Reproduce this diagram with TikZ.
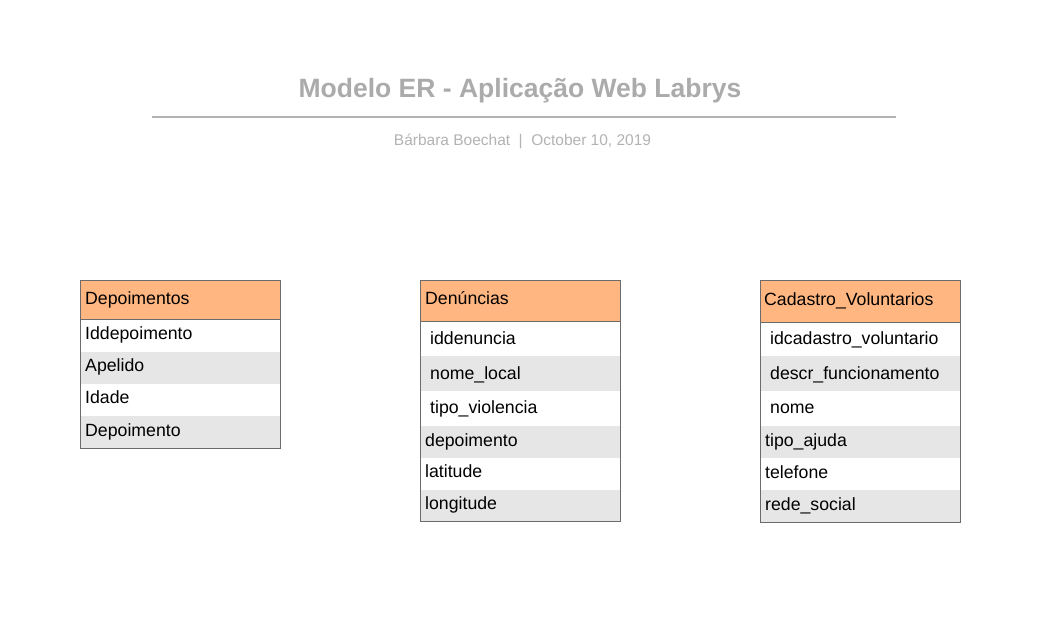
\documentclass[tikz,border=0pt]{standalone}
\usepackage{fontspec}
\setmainfont{Liberation Sans}
\usepackage{tikz}

\definecolor{hdrorange}{HTML}{FFB680}
\definecolor{rowgrey}{HTML}{E6E6E6}
\definecolor{tblborder}{HTML}{6B6B6B}
\definecolor{titlegrey}{HTML}{ABABAB}
\definecolor{subgrey}{HTML}{B3B3B3}

\newcommand{\fieldfont}{\fontsize{17.7}{20}\selectfont}

\tikzset{
  tblframe/.style={draw=tblborder, line width=1pt},
  hdrcell/.style={fill=hdrorange},
  greycell/.style={fill=rowgrey},
  fld/.style={anchor=base west, inner sep=0pt, font=\fieldfont},
}

\begin{document}
\begin{tikzpicture}[x=1pt, y=-1pt]
  \useasboundingbox[fill=white] (0,0) rectangle (1063,636);
  % title block
  \node (title) [anchor=base, inner sep=0pt, text=titlegrey, font=\bfseries\fontsize{26.5}{30}\selectfont] at (520,98) {Modelo ER - Aplicação Web Labrys};
  \draw [draw=subgrey, line width=2pt] (152,117) -- (896,117);
  \node (author) [anchor=base, inner sep=0pt, text=subgrey, font=\fontsize{15.5}{18}\selectfont] at (522.5,145.5) {Bárbara Boechat\hspace{0.55em}|\hspace{0.55em}October 10, 2019};
  %
  % Depoimentos
  \fill [hdrcell] (80,281) rectangle (280,320);
  \fill [greycell] (80,352) rectangle (280,384);
  \fill [greycell] (80,416) rectangle (280,448);
  \draw [tblframe] (80,320) -- (280,320);
  \draw [tblframe] (80,281) rectangle (280,448);
  \node (dep) [fld] at (85,304.3) {Depoimentos};
  \node (dep1) [fld] at (85,339.3) {Iddepoimento};
  \node (dep2) [fld] at (85,371) {Apelido};
  \node (dep3) [fld] at (85,403.7) {Idade};
  \node (dep4) [fld] at (85,436) {Depoimento};
  %
  % Denuncias
  \fill [hdrcell] (420,281) rectangle (620,322);
  \fill [greycell] (420,356) rectangle (620,391);
  \fill [greycell] (420,426) rectangle (620,458);
  \fill [greycell] (420,490) rectangle (620,521);
  \draw [tblframe] (420,322) -- (620,322);
  \draw [tblframe] (420,281) rectangle (620,521);
  \node (den) [fld] at (425,304.3) {Denúncias};
  \node (den1) [fld] at (430,344.3) {iddenuncia};
  \node (den2) [fld] at (430,379.3) {nome\_local};
  \node (den3) [fld] at (430,413.7) {tipo\_violencia};
  \node (den4) [fld] at (425,446) {depoimento};
  \node (den5) [fld] at (425,477.7) {latitude};
  \node (den6) [fld] at (425,509.3) {longitude};
  %
  % Cadastro_Voluntarios
  \fill [hdrcell] (760,281) rectangle (960,323);
  \fill [greycell] (760,356) rectangle (960,391);
  \fill [greycell] (760,426) rectangle (960,458);
  \fill [greycell] (760,490) rectangle (960,522);
  \draw [tblframe] (760,323) -- (960,323);
  \draw [tblframe] (760,281) rectangle (960,522);
  \node (vol) [fld] at (764,305.3) {Cadastro\_Voluntarios};
  \node (vol1) [fld] at (770,344.3) {idcadastro\_voluntario};
  \node (vol2) [fld] at (770,379.3) {descr\_funcionamento};
  \node (vol3) [fld] at (770,413.7) {nome};
  \node (vol4) [fld] at (765,446.7) {tipo\_ajuda};
  \node (vol5) [fld] at (765,478.3) {telefone};
  \node (vol6) [fld] at (765,510.3) {rede\_social};
\end{tikzpicture}
\end{document}
